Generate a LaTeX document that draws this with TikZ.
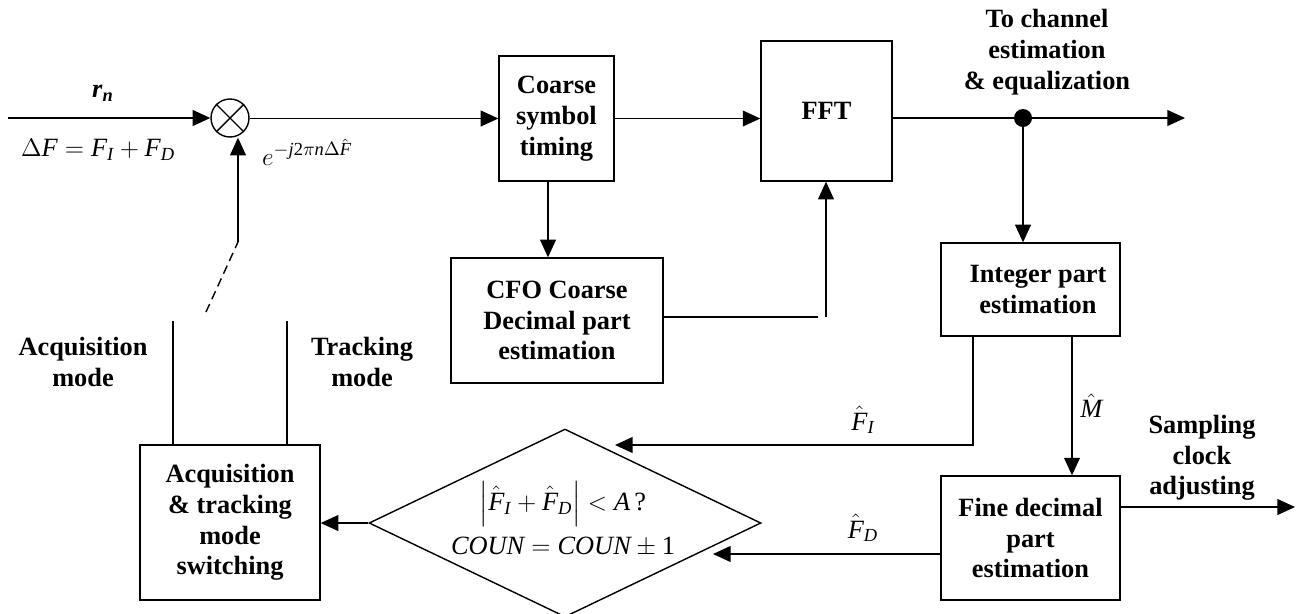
\documentclass[tikz,border=0pt]{standalone}
\usepackage{amsmath}
\usepackage{fontspec}
\setmainfont{Liberation Serif}
\usetikzlibrary{arrows.meta, shapes.geometric, calc}
\newcommand{\mi}[1]{\textit{#1}}

\begin{document}
\begin{tikzpicture}[x=0.02cm, y=-0.02cm,
  font=\fontsize{15}{17.5}\selectfont,
  box/.style={draw, line width=0.8pt, inner sep=0pt, align=center,
              font=\fontsize{15}{17.5}\selectfont\bfseries},
  lbl/.style={align=center, font=\fontsize{15}{17.5}\selectfont\bfseries},
  arr/.style={-{Triangle[length=10pt,width=9pt]}, line width=0.8pt},
  wire/.style={line width=0.8pt}
]
  \useasboundingbox (0,0) rectangle (1308,613);

  %% Blocks
  \node[draw, circle, line width=0.8pt, minimum size=0.76cm, inner sep=0pt] (mix) at (230,118) {};
  \draw[wire] (mix.north east) -- (mix.south west) (mix.north west) -- (mix.south east);
  \node[box, minimum width=2.3cm,  minimum height=2.5cm]  (cst) at (556.5,118.5) {Coarse\\symbol\\timing};
  \node[box, minimum width=2.62cm, minimum height=2.8cm]  (fft) at (826.5,111)   {FFT};
  \node[box, minimum width=4.24cm, minimum height=2.5cm]  (cfo) at (557,320.5)   {CFO Coarse\\Decimal part\\estimation};
  \node[box, minimum width=3.58cm, minimum height=1.86cm] (ipe) at (1030.5,289.5) {\hspace{0.3cm}Integer part\\\hspace{0.3cm}estimation};
  \node[box, minimum width=3.58cm, minimum height=2.48cm] (fde) at (1030.5,538)  {Fine decimal\\part\\estimation};
  \node[box, minimum width=3.6cm,  minimum height=3.1cm]  (ats) at (230,522.5)   {Acquisition\\\& tracking\\mode\\switching};
  \node[draw, diamond, line width=0.8pt, inner sep=0pt, shape aspect=2.08,
        minimum width=7.84cm, minimum height=3.76cm] (dec) at (565,523) {};
  \node[align=center] (dect) at (563,519)
       {$\left|\hat{\mi{F}}_{\mi{I}}+\hat{\mi{F}}_{\mi{D}}\right| < \mi{A}\,\textup{?}$\\[5pt]
        $\mi{COUN} = \mi{COUN} \pm \textup{1}$};
  \node[circle, fill, inner sep=0pt, minimum size=0.36cm] (dot) at (1023,118) {};

  %% Free ends
  \coordinate (src)  at (8,118);
  \coordinate (out)  at (1185,118);
  \coordinate (smp)  at (1295,507);
  \coordinate (gapl) at (818,317);
  \coordinate (gapr) at (826,317);
  \coordinate (fi)   at (615,445);
  \coordinate (fd)   at (713,554);
  \coordinate (sw)   at (238,242);
  \coordinate (swe)  at (206,312);
  \coordinate (acq)  at (173,321);
  \coordinate (trk)  at (287,321);

  %% Forward path
  \draw[arr]  (src) -- (mix.west);
  \draw[arr]  (mix.east |- cst.west) -- (cst.west);
  \draw[arr]  (cst.east) -- (fft.west |- cst.east);
  \draw[wire] (fft.east |- dot) -- (dot);
  \draw[arr]  (dot) -- (out);
  \draw[arr]  (dot) -- (dot |- ipe.north);
  \draw[arr]  (cst.south -| 548,0) -- (cfo.north -| 548,0);
  \draw[wire] (cfo.east |- gapl) -- (gapl);
  \draw[arr]  (gapr) -- (gapr |- fft.south);

  %% Estimation loop
  \draw[arr]  ([xshift=0.83cm]ipe.south) -- node[right=1pt] {$\hat{\mi{M}}$} ([xshift=0.83cm]fde.north);
  \draw[arr]  ([xshift=-1.15cm]ipe.south) |- (fi);
  \draw[arr]  (fde.west |- fd) -- (fd);
  \draw[arr]  (fde.east |- smp) -- (smp);
  \draw[arr]  (dec.west) -- (ats.east |- dec.west);
  \draw[wire] (acq) -- (acq |- ats.north);
  \draw[wire] (trk) -- (trk |- ats.north);
  \draw[wire, dash pattern=on 5pt off 3pt] (swe) -- (sw);
  \draw[arr]  (sw) -- (sw |- mix.south);

  %% Labels
  \node (rn)  at (103,93)  {$\textbf{\textit{r}}_{\textbf{\textit{n}}}$};
  \node (df)  at (98,150)  {$\Delta\mi{F} = \mi{F}_{\mi{I}} + \mi{F}_{\mi{D}}$};
  \node[anchor=west] (ex) at (256,152) {$e^{-\mi{j}\textup{2}\pi\mi{n}\Delta\hat{\mi{F}}}$};
  \node (lfi) at (863,420) {$\hat{\mi{F}}_{\mi{I}}$};
  \node (lfd) at (863,528) {$\hat{\mi{F}}_{\mi{D}}$};
  \foreach \n/\x/\y/\t in {toch/1047/52/To channel\\estimation\\\& equalization,
                          lacq/83/362/Acquisition\\mode,
                          ltrk/362/362/Tracking\\mode,
                          lsmp/1202/458/Sampling\\clock\\adjusting}{
    \node[lbl] (\n) at (\x,\y) {\t};
  }
\end{tikzpicture}
\end{document}
